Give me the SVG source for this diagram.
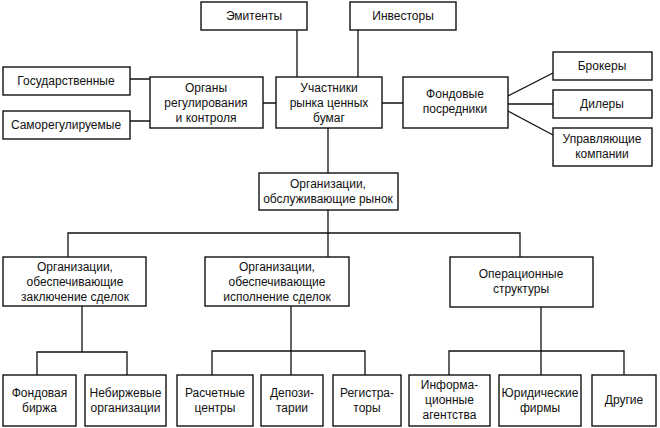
<svg xmlns="http://www.w3.org/2000/svg" width="660" height="428" viewBox="0 0 660 428">
<style>
.box{fill:#fff;stroke:#111;stroke-width:1.4}
.ln{fill:none;stroke:#111;stroke-width:1.3}
text{font-family:"Liberation Sans",Arial,sans-serif;font-size:12px;fill:#111;text-anchor:middle}
</style>
<rect width="660" height="428" fill="#fff"/>
<g id="connectors" class="ln">
<path d="M297 30V77M358 30V77"/>
<path d="M130 79H150M130 121H150M263 103H276M382 103H403"/>
<path d="M508 96L553 73M508 104H553M508 111L553 135"/>
<path d="M328 128V173M328 210V257M68 257V233H520V257"/>
<path d="M82 306V352M37 375V352H127V375"/>
<path d="M291 306V375M212 375V351H365V375"/>
<path d="M541 307V375M449 375V351H624V375"/>
</g>
<g id="emitenty"><rect class="box" x="201" y="2" width="106" height="28"/><text x="254" y="20">Эмитенты</text></g>
<g id="investory"><rect class="box" x="350" y="2" width="106" height="28"/><text x="403" y="20">Инвесторы</text></g>
<g id="gos"><rect class="box" x="3" y="67" width="127" height="28"/><text x="66" y="85">Государственные</text></g>
<g id="samoreg"><rect class="box" x="3" y="111" width="127" height="28"/><text x="66" y="129">Саморегулируемые</text></g>
<g id="organy"><rect class="box" x="150" y="77" width="113" height="51"/><text x="206" y="92">Органы</text><text x="206" y="107">регулирования</text><text x="206" y="122">и контроля</text></g>
<g id="uchastniki"><rect class="box" x="276" y="77" width="106" height="51"/><text x="329" y="92">Участники</text><text x="329" y="107">рынка ценных</text><text x="329" y="122">бумаг</text></g>
<g id="posredniki"><rect class="box" x="403" y="77" width="105" height="51"/><text x="455" y="98">Фондовые</text><text x="455" y="113">посредники</text></g>
<g id="brokery"><rect class="box" x="553" y="52" width="99" height="28"/><text x="602" y="70">Брокеры</text></g>
<g id="dilery"><rect class="box" x="553" y="90" width="99" height="28"/><text x="602" y="108">Дилеры</text></g>
<g id="upravl"><rect class="box" x="553" y="128" width="99" height="38"/><text x="602" y="143">Управляющие</text><text x="602" y="158">компании</text></g>
<g id="obsluzh"><rect class="box" x="259" y="173" width="139" height="37"/><text x="328" y="188">Организации,</text><text x="328" y="203">обслуживающие рынок</text></g>
<g id="zakl"><rect class="box" x="3" y="257" width="143" height="49"/><text x="75" y="271">Организации,</text><text x="75" y="286">обеспечивающие</text><text x="75" y="301">заключение сделок</text></g>
<g id="ispoln"><rect class="box" x="205" y="257" width="144" height="49"/><text x="277" y="271">Организации,</text><text x="277" y="286">обеспечивающие</text><text x="277" y="301">исполнение сделок</text></g>
<g id="operac"><rect class="box" x="450" y="257" width="143" height="50"/><text x="521" y="278">Операционные</text><text x="521" y="293">структуры</text></g>
<g id="birzha"><rect class="box" x="3" y="375" width="73" height="51"/><text x="39.5" y="397">Фондовая</text><text x="39.5" y="412">биржа</text></g>
<g id="nebirzh"><rect class="box" x="85" y="375" width="81" height="51"/><text x="125.5" y="397">Небиржевые</text><text x="125.5" y="412">организации</text></g>
<g id="raschet"><rect class="box" x="177" y="375" width="76" height="51"/><text x="215" y="397">Расчетные</text><text x="215" y="412">центры</text></g>
<g id="depoz"><rect class="box" x="261" y="375" width="62" height="51"/><text x="292" y="397">Депози-</text><text x="292" y="412">тарии</text></g>
<g id="registr"><rect class="box" x="333" y="375" width="68" height="51"/><text x="367" y="397">Регистра-</text><text x="367" y="412">торы</text></g>
<g id="inform"><rect class="box" x="409" y="375" width="81" height="51"/><text x="449.5" y="389">Информа-</text><text x="449.5" y="404">ционные</text><text x="449.5" y="419">агентства</text></g>
<g id="yurid"><rect class="box" x="499" y="375" width="82" height="51"/><text x="540" y="397">Юридические</text><text x="540" y="412">фирмы</text></g>
<g id="drugie"><rect class="box" x="592" y="375" width="64" height="51"/><text x="624" y="404">Другие</text></g>
</svg>
